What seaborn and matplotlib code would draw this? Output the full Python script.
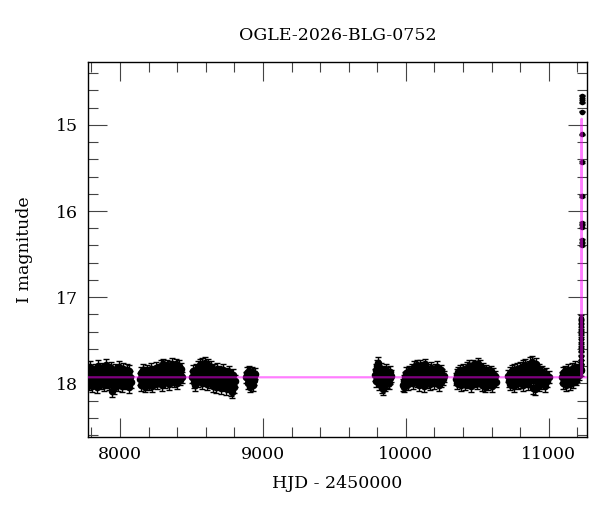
import matplotlib
matplotlib.use("Agg")
import matplotlib.pyplot as plt
from matplotlib.ticker import MultipleLocator
import numpy as np
import pandas as pd
import seaborn as sns

title = "OGLE-2026-BLG-0752"

# season 1
s1_hjd = [7763, 7768, 7774, 7779, 7783, 7788, 7792, 7797, 7803, 7806,
          7811, 7815, 7820, 7826, 7829, 7834, 7838, 7843, 7849, 7852,
          7857, 7862, 7866, 7871, 7875, 7880, 7886, 7889, 7894, 7899,
          7903, 7908, 7913, 7917, 7922, 7926, 7931, 7937, 7940, 7945,
          7949, 7954, 7960, 7963, 7968, 7972, 7977, 7983, 7986, 7991,
          7996, 8000, 8005, 8010, 8014, 8019, 8024, 8028, 8033, 8038,
          8043, 8047, 8052, 8057, 8061, 8066, 8070, 8075]
s1_mag = [17.92, 17.85, 17.97, 17.89, 18.01, 17.94, 17.81, 17.96, 17.90, 18.03,
          17.87, 17.93, 17.99, 17.84, 17.95, 17.91, 18.04, 17.88, 17.80, 17.97,
          17.93, 17.86, 18.00, 17.92, 17.83, 17.95, 17.90, 18.02, 17.87, 17.94,
          17.79, 17.98, 17.91, 17.85, 18.01, 17.93, 17.89, 17.96, 17.82, 18.09,
          17.94, 17.88, 18.05, 17.92, 17.84, 17.97, 17.90, 18.02, 17.86, 17.93,
          17.81, 17.99, 17.91, 17.87, 18.03, 17.95, 17.83, 17.92, 18.00, 17.88,
          17.94, 17.85, 17.97, 17.90, 18.04, 17.86, 17.93, 17.98]

# season 2
s2_hjd = [8141, 8146, 8150, 8155, 8160, 8164, 8169, 8173, 8178, 8183,
          8187, 8192, 8196, 8201, 8206, 8210, 8215, 8219, 8224, 8229,
          8233, 8238, 8242, 8247, 8252, 8256, 8261, 8265, 8270, 8275,
          8279, 8284, 8288, 8293, 8298, 8302, 8307, 8311, 8316, 8321,
          8325, 8330, 8334, 8339, 8344, 8348, 8353, 8357, 8362, 8367,
          8371, 8376, 8380, 8385, 8390, 8394, 8399, 8403, 8408, 8413,
          8417, 8422, 8428, 8436]
s2_mag = [17.95, 17.88, 18.02, 17.91, 17.84, 17.97, 17.93, 18.04, 17.87, 17.92,
          17.99, 17.85, 17.94, 18.01, 17.89, 17.96, 17.83, 17.92, 18.03, 17.88,
          17.94, 17.86, 17.98, 17.90, 17.82, 17.95, 18.00, 17.87, 17.93, 17.84,
          17.97, 17.80, 17.91, 18.02, 17.86, 17.78, 17.94, 17.89, 17.99, 17.83,
          17.92, 17.79, 17.96, 17.87, 18.01, 17.81, 17.93, 17.88, 17.77, 17.95,
          17.85, 17.98, 17.82, 17.91, 17.78, 17.94, 18.00, 17.84, 17.90, 17.80,
          17.96, 17.87, 17.83, 17.93]

# season 3
s3_hjd = [8506, 8511, 8515, 8520, 8525, 8529, 8534, 8538, 8543, 8548,
          8552, 8557, 8561, 8566, 8571, 8575, 8580, 8584, 8589, 8594,
          8598, 8603, 8607, 8612, 8617, 8621, 8626, 8630, 8635, 8640,
          8644, 8649, 8653, 8658, 8663, 8667, 8672, 8676, 8681, 8686,
          8690, 8695, 8699, 8704, 8709, 8713, 8718, 8722, 8727, 8732,
          8736, 8741, 8745, 8750, 8755, 8759, 8764, 8768, 8773, 8778,
          8782, 8787, 8795, 8806]
s3_mag = [17.93, 17.86, 17.99, 17.90, 18.02, 17.84, 17.95, 17.88, 17.81, 17.97,
          17.91, 17.79, 17.94, 17.85, 18.00, 17.78, 17.89, 17.83, 17.96, 17.76,
          17.90, 17.82, 18.01, 17.87, 17.79, 17.93, 17.84, 17.98, 17.81, 17.91,
          17.86, 18.03, 17.92, 17.85, 17.97, 17.89, 18.04, 17.83, 17.94, 17.90,
          18.01, 17.87, 17.95, 18.05, 17.88, 17.93, 17.99, 17.85, 18.02, 17.91,
          17.96, 18.06, 17.89, 17.94, 18.03, 17.87, 18.00, 17.92, 18.08, 17.95,
          18.10, 17.90, 18.04, 17.97]

# season 4
s4_hjd = [8883, 8888, 8893, 8897, 8902, 8906, 8911, 8915, 8920, 8925,
          8929, 8934, 8940, 8947]
s4_mag = [17.93, 17.88, 18.00, 17.91, 17.86, 17.97, 18.04, 17.90, 17.94, 17.87,
          18.02, 17.92, 17.96, 17.89]

# season 5
s5_hjd = [9786, 9790, 9794, 9798, 9802, 9806, 9810, 9814, 9818, 9822,
          9826, 9830, 9834, 9838, 9842, 9846, 9850, 9854, 9858, 9862,
          9866, 9870, 9874, 9878, 9882, 9886, 9890, 9895]
s5_mag = [17.90, 17.84, 17.97, 17.80, 17.76, 17.92, 17.86, 18.01, 17.89, 17.95,
          17.83, 18.04, 17.91, 18.07, 17.98, 17.87, 17.94, 18.02, 17.85, 17.93,
          17.99, 17.88, 17.96, 17.91, 18.00, 17.87, 17.94, 17.92]

# season 6
s6_hjd = [9979, 9984, 9989, 9994, 9999, 10003, 10008, 10012, 10017, 10022,
          10026, 10031, 10035, 10040, 10045, 10049, 10054, 10058, 10063, 10068,
          10072, 10077, 10081, 10086, 10091, 10095, 10100, 10104, 10109, 10114,
          10118, 10123, 10127, 10132, 10137, 10141, 10146, 10150, 10155, 10160,
          10164, 10169, 10173, 10178, 10183, 10187, 10192, 10196, 10201, 10206,
          10210, 10215, 10219, 10224, 10229, 10233, 10238, 10243, 10249, 10256,
          10263, 10270]
s6_mag = [18.02, 17.97, 18.04, 17.93, 17.99, 17.88, 17.95, 17.91, 18.01, 17.86,
          17.94, 17.89, 17.97, 17.84, 17.92, 18.00, 17.87, 17.81, 17.95, 17.90,
          17.83, 17.98, 17.79, 17.92, 17.86, 18.02, 17.80, 17.94, 17.88, 17.96,
          17.82, 17.91, 18.03, 17.85, 17.78, 17.93, 17.89, 17.99, 17.84, 17.95,
          17.87, 18.01, 17.90, 17.82, 17.96, 17.93, 17.86, 18.00, 17.91, 17.84,
          17.97, 17.89, 17.81, 17.94, 18.02, 17.88, 17.92, 17.85, 17.98, 17.90,
          17.95, 17.92]

# season 7
s7_hjd = [10352, 10357, 10361, 10366, 10371, 10375, 10380, 10384, 10389, 10394,
          10398, 10403, 10407, 10412, 10417, 10421, 10426, 10430, 10435, 10440,
          10444, 10449, 10453, 10458, 10463, 10467, 10472, 10476, 10481, 10486,
          10490, 10495, 10499, 10504, 10509, 10513, 10518, 10522, 10527, 10532,
          10536, 10541, 10545, 10550, 10555, 10559, 10564, 10568, 10573, 10578,
          10582, 10587, 10591, 10596, 10601, 10605, 10611, 10617, 10624, 10631]
s7_mag = [17.95, 17.90, 18.00, 17.87, 17.93, 17.98, 17.85, 17.92, 18.02, 17.89,
          17.84, 17.96, 17.91, 18.01, 17.86, 17.94, 17.82, 17.99, 17.88, 17.93,
          17.80, 17.97, 17.85, 18.03, 17.90, 17.79, 17.94, 17.87, 17.81, 17.98,
          17.91, 17.84, 18.00, 17.77, 17.93, 17.86, 17.96, 17.80, 17.89, 18.02,
          17.92, 17.83, 17.97, 17.88, 18.04, 17.85, 17.94, 17.90, 18.01, 17.87,
          17.95, 17.91, 17.99, 17.86, 17.93, 18.03, 17.89, 17.96, 17.92, 17.98]

# season 8
s8_hjd = [10717, 10722, 10726, 10731, 10736, 10740, 10745, 10749, 10754, 10759,
          10763, 10768, 10772, 10777, 10782, 10786, 10791, 10795, 10800, 10805,
          10809, 10814, 10818, 10823, 10828, 10832, 10837, 10841, 10846, 10851,
          10855, 10860, 10864, 10869, 10874, 10878, 10883, 10887, 10892, 10897,
          10901, 10906, 10910, 10915, 10920, 10924, 10929, 10933, 10938, 10943,
          10947, 10952, 10956, 10961, 10966, 10971, 10977, 10984, 10991, 10999]
s8_mag = [17.92, 17.97, 17.88, 18.01, 17.94, 17.86, 17.99, 17.90, 17.85, 18.03,
          17.93, 17.88, 17.96, 17.83, 18.00, 17.91, 17.87, 17.95, 17.82, 17.98,
          17.89, 17.93, 17.80, 18.02, 17.86, 17.94, 17.79, 17.90, 17.97, 17.84,
          18.01, 17.81, 17.92, 17.77, 17.96, 17.87, 17.75, 18.05, 17.89, 17.83,
          18.07, 17.93, 17.78, 17.99, 17.86, 17.91, 18.02, 17.84, 17.95, 17.88,
          18.00, 17.92, 17.87, 17.96, 17.90, 18.03, 17.94, 17.89, 17.97, 17.93]

# season 9 (baseline before the event)
s9_hjd = [11092, 11096, 11101, 11105, 11110, 11114, 11119, 11123, 11128, 11132,
          11137, 11141, 11146, 11150, 11155, 11159, 11164, 11168, 11173, 11177,
          11182, 11186, 11191, 11195, 11200, 11204, 11209, 11213, 11218, 11222]
s9_mag = [17.93, 17.88, 18.00, 17.91, 17.96, 17.86, 18.02, 17.90, 17.94, 17.84,
          17.97, 17.89, 18.01, 17.92, 17.87, 17.95, 17.83, 17.99, 17.90, 17.85,
          17.94, 17.81, 17.96, 17.88, 17.92, 17.84, 17.90, 17.86, 17.82, 17.85]

# typical error bar per baseline season
season_err = [0.07, 0.065, 0.07, 0.065, 0.07, 0.065, 0.065, 0.07, 0.065]

# the event itself
ev_hjd = [11224.5, 11225.2, 11225.8, 11226.3, 11226.8, 11227.2, 11227.5, 11227.8,
          11228.0, 11228.2, 11228.4, 11228.6, 11228.8, 11229.0, 11229.2, 11229.4,
          11229.6, 11229.8, 11230.0, 11230.2, 11230.4, 11230.6, 11230.8, 11231.0]
ev_mag = [17.82, 17.78, 17.73, 17.68, 17.63, 17.58, 17.53, 17.48,
          17.43, 17.38, 17.33, 17.28, 17.24, 16.39, 16.34, 16.18,
          16.14, 15.83, 15.43, 15.11, 14.85, 14.74, 14.70, 14.66]
ev_err = [0.05, 0.05, 0.05, 0.045, 0.045, 0.04, 0.04, 0.04,
          0.035, 0.035, 0.035, 0.03, 0.03, 0.015, 0.015, 0.012,
          0.012, 0.01, 0.008, 0.008, 0.006, 0.006, 0.006, 0.006]

# model curve (flat baseline with a narrow spike)
model_hjd = [7700, 11229, 11230, 11231, 11300]
model_mag = [17.93, 17.93, 14.93, 17.93, 17.93]

seasons = [(s1_hjd, s1_mag), (s2_hjd, s2_mag), (s3_hjd, s3_mag), (s4_hjd, s4_mag),
           (s5_hjd, s5_mag), (s6_hjd, s6_mag), (s7_hjd, s7_mag), (s8_hjd, s8_mag),
           (s9_hjd, s9_mag)]
frames = []
for (h, m), e in zip(seasons, season_err):
    frames.append(pd.DataFrame({"hjd": h, "mag": m, "err": e}))
base = pd.concat(frames, ignore_index=True)
event = pd.DataFrame({"hjd": ev_hjd, "mag": ev_mag, "err": ev_err})
df = pd.concat([base, event], ignore_index=True)

sns.set_style("ticks")
plt.rcParams["font.family"] = ["DejaVu Serif"]
plt.rcParams["font.size"] = 12.5
for k in ["text.color", "axes.labelcolor", "xtick.color", "ytick.color", "axes.edgecolor"]:
    plt.rcParams[k] = "black"

fig = plt.figure(figsize=(6, 5.12), dpi=100)
ax = fig.add_axes([0.1467, 0.147, 0.8313, 0.732])

ax.errorbar(df["hjd"], df["mag"], yerr=df["err"], fmt="none", ecolor="black",
            elinewidth=1.0, capsize=2.3, capthick=1.0, zorder=2)
# baseline points are packed densely in the original, drawn a bit larger here
sns.scatterplot(data=base, x="hjd", y="mag", color="black", s=30, linewidth=0,
                ax=ax, zorder=3)
sns.scatterplot(data=event, x="hjd", y="mag", color="black", s=16, linewidth=0,
                ax=ax, zorder=3)
sns.lineplot(x=model_hjd, y=model_mag, color="magenta", alpha=0.5, lw=1.6,
             estimator=None, sort=False, ax=ax, zorder=4)
ax.lines[-1].set_solid_joinstyle("round")

ax.set_xlim(7776, 11266)
ax.set_ylim(18.62, 14.27)
ax.xaxis.set_major_locator(MultipleLocator(1000))
ax.xaxis.set_minor_locator(MultipleLocator(200))
ax.yaxis.set_major_locator(MultipleLocator(1))
ax.yaxis.set_minor_locator(MultipleLocator(0.2))
ax.tick_params(which="both", direction="in", top=True, right=True,
               color="#444444", width=0.8, labelsize=12.5, labelcolor="black")
ax.tick_params(which="major", length=13.5, pad=7)
ax.tick_params(which="minor", length=7)
for s in ax.spines.values():
    s.set_linewidth(1.0)
    s.set_color("black")

ax.set_title(title, fontsize=12.5, pad=16)
ax.set_xlabel("HJD - 2450000", fontsize=12.5, labelpad=8)
ax.set_ylabel("I magnitude", fontsize=12.5, labelpad=17)

fig.savefig("out.png", dpi=100)
